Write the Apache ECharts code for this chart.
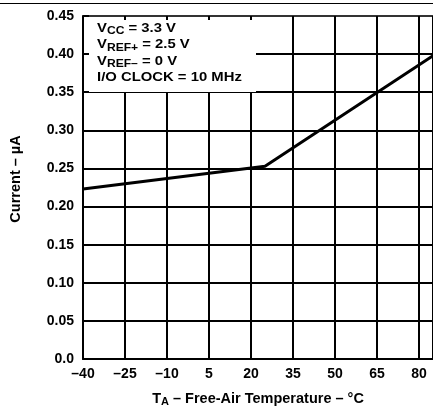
<!DOCTYPE html>
<html>
<head>
<meta charset="utf-8">
<script src="https://cdn.jsdelivr.net/npm/echarts@6/dist/echarts.min.js"></script>
<style>html,body{margin:0;padding:0;background:#fff}#c{width:433px;height:412px}</style>
</head>
<body>
<div id="c"></div>
<script>
// Data
const tempC = [-40, 25, 85];
const currentUA = [0.223, 0.253, 0.398];
const xMin = -40, xMax = 85, xStep = 15;
const yMin = 0, yMax = 0.45, yStep = 0.05;
const noteLines = ['V{s|CC} = 3.3 V', 'V{s|REF+} = 2.5 V', 'V{s|REF\u2013} = 0 V', 'I/O CLOCK = 10 MHz'];
const xName = 'T{s|A} \u2013 Free-Air Temperature \u2013 \u00B0C';
const yName = 'Current \u2013 \u00B5A';

const FONT = 'Arial, "Liberation Sans", Helvetica, sans-serif';
const chart = echarts.init(document.getElementById('c'));
const seriesData = tempC.map((t, i) => [t, currentUA[i]]);

chart.setOption({
  animation: false,
  backgroundColor: '#fff',
  grid: { left: 81, right: -1, top: 16, bottom: 46, containLabel: false },
  xAxis: [{
    type: 'value', min: xMin, max: xMax, interval: xStep, position: 'bottom',
    axisLine: { show: true, onZero: false, lineStyle: { color: '#000', width: 2 } },
    axisTick: { show: false },
    splitLine: { show: true, lineStyle: { color: '#000', width: 2 } },
    axisLabel: {
      showMaxLabel: false, margin: 8, color: '#000', fontFamily: FONT, fontWeight: 'bold', fontSize: 14,
      formatter: v => v < 0 ? '\u2013' + Math.abs(v) : String(v)
    },
    name: xName, nameLocation: 'middle', nameGap: 31,
    nameTextStyle: {
      color: '#000', fontFamily: FONT, fontWeight: 'bold', fontSize: 14.5, lineHeight: 17,
      rich: { s: { fontSize: 11, fontWeight: 'bold', fontFamily: FONT, color: '#000', verticalAlign: 'bottom', lineHeight: 8 } }
    },
    z: 0
  }, {
    type: 'value', min: xMin, max: xMax, interval: xStep, position: 'top',
    axisLine: { show: true, onZero: false, lineStyle: { color: '#333', width: 2 } },
    axisTick: { show: true, inside: true, length: 4, lineStyle: { color: '#000', width: 2 } },
    splitLine: { show: false }, axisLabel: { show: false },
    z: 10
  }],
  yAxis: [{
    type: 'value', min: yMin, max: yMax, interval: yStep, position: 'left',
    axisLine: { show: false, onZero: false }, axisTick: { show: false },
    splitLine: { show: true, lineStyle: { color: '#000', width: 2 } },
    axisLabel: {
      margin: 9, color: '#000', fontFamily: FONT, fontWeight: 'bold', fontSize: 14,
      formatter: v => v === 0 ? '0.0' : v.toFixed(2)
    },
    name: yName, nameLocation: 'middle', nameRotate: 90, nameGap: 60,
    nameTextStyle: { color: '#000', fontFamily: FONT, fontWeight: 'bold', fontSize: 14.5, padding: [0, 0, 0, 17] },
    z: 0
  }, {
    type: 'value', min: yMin, max: yMax, interval: yStep, position: 'left',
    axisLine: { show: true, onZero: false, lineStyle: { color: '#000', width: 2 } },
    axisTick: { show: true, inside: true, length: 6, lineStyle: { color: '#000', width: 2 } },
    splitLine: { show: false }, axisLabel: { show: false },
    z: 10
  }],
  graphic: {
    elements: [
      { type: 'rect', id: 'topRule', left: 0, top: 3, shape: { width: 433, height: 1 }, style: { fill: '#000' }, z: 20 },
      { type: 'rect', id: 'noteBox', left: 82, top: 17, shape: { width: 174, height: 75 }, style: { fill: '#fff' }, z: 3 },
      {
        type: 'text', id: 'noteText', x: 97, y: 20, scaleX: 1.1, z: 4,
        style: {
          text: noteLines.join('\n'), fill: '#000', fontFamily: FONT, fontWeight: 'bold', fontSize: 13.5,
          lineHeight: 16.5, align: 'left', verticalAlign: 'top',
          rich: { s: { fontSize: 11, fontWeight: 'bold', fontFamily: FONT, fill: '#000', verticalAlign: 'bottom', lineHeight: 8 } }
        }
      }
    ]
  },
  series: [{
    type: 'line', xAxisIndex: 0, yAxisIndex: 0, data: seriesData,
    showSymbol: false, symbol: 'none',
    lineStyle: { color: '#000', width: 3 }, z: 2
  }]
});
</script>
</body>
</html>
